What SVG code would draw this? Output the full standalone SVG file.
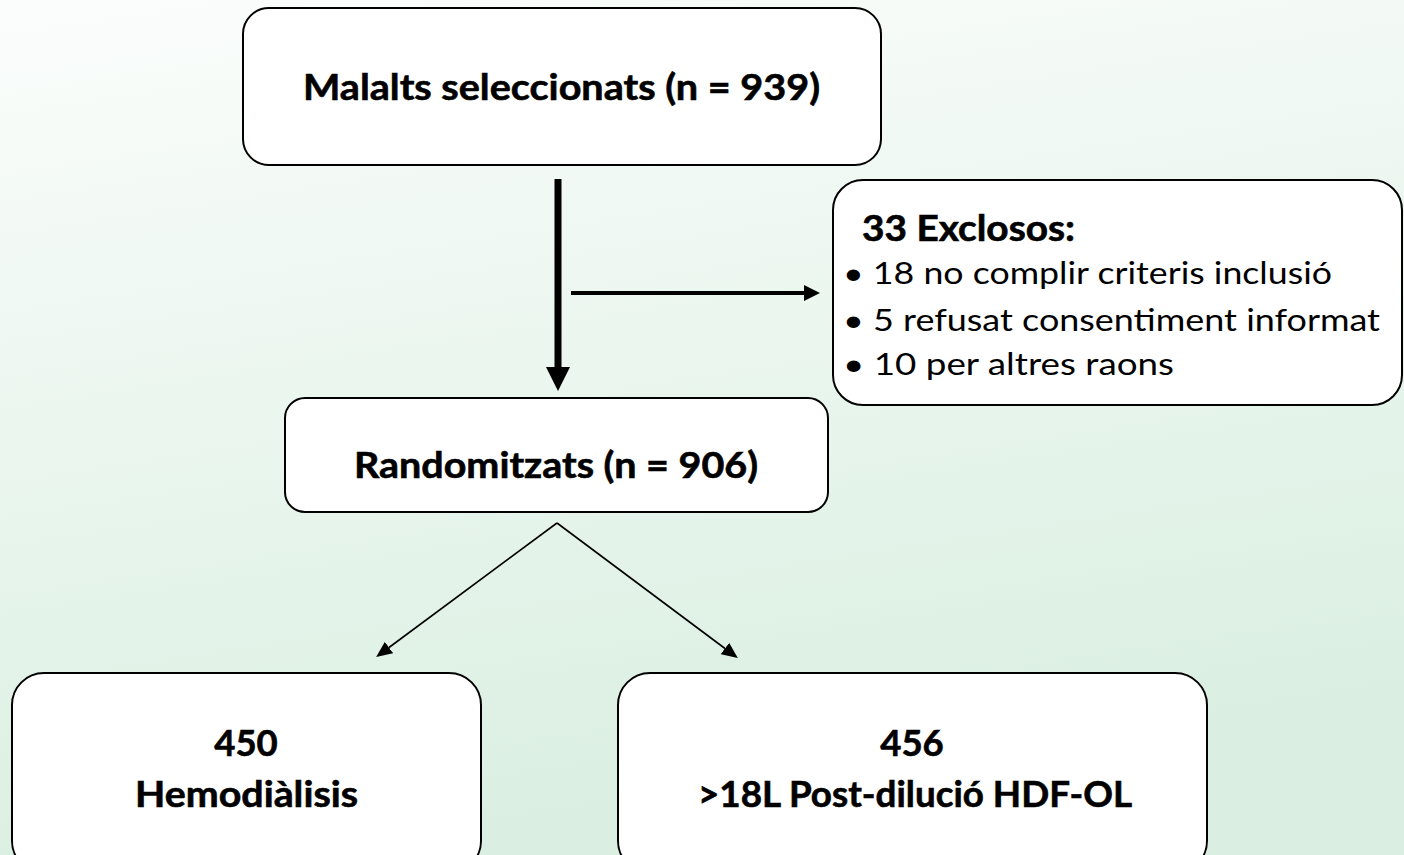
<svg xmlns="http://www.w3.org/2000/svg" width="1404" height="855" viewBox="0 0 1404 855">
<defs>
<linearGradient id="bg" x1="0" y1="0" x2="0.25" y2="1">
<stop offset="0" stop-color="#fbfdfc"/>
<stop offset="1" stop-color="#daefe1"/>
</linearGradient>
<marker id="headBig" markerUnits="userSpaceOnUse" markerWidth="24" markerHeight="24" refX="0" refY="12" orient="auto" viewBox="0 0 24 24">
<path d="M0,0 L24,12 L0,24 Z" fill="#000"/>
</marker>
<marker id="headMid" markerUnits="userSpaceOnUse" markerWidth="16" markerHeight="16" refX="0" refY="8" orient="auto" viewBox="0 0 16 16">
<path d="M0,0 L16,8 L0,16 Z" fill="#000"/>
</marker>
<marker id="headSmall" markerUnits="userSpaceOnUse" markerWidth="16" markerHeight="14" refX="0" refY="7" orient="auto" viewBox="0 0 16 14">
<path d="M0,0 L16,7 L0,14 Z" fill="#000"/>
</marker>
</defs>
<style>
.box { fill: #ffffff; stroke: #000; stroke-width: 2; }
.b { font-family: Lato, "Liberation Sans", sans-serif; font-weight: bold; font-size: 36.5px; fill: #000; stroke: #000; stroke-width: 0.6; }
.r { font-family: Lato, "Liberation Sans", sans-serif; font-weight: normal; font-size: 31px; fill: #000; }
.conn { stroke: #000; fill: none; }
</style>
<rect x="0" y="0" width="1404" height="855" fill="url(#bg)"/>

<g id="connectors">
<line class="conn" x1="558" y1="179" x2="558" y2="367" stroke-width="7" marker-end="url(#headBig)"/>
<line class="conn" x1="571" y1="293" x2="804" y2="293" stroke-width="4" marker-end="url(#headMid)"/>
<line class="conn" x1="557" y1="523" x2="389" y2="647.5" stroke-width="1.6" marker-end="url(#headSmall)"/>
<line class="conn" x1="557" y1="523" x2="725" y2="648.5" stroke-width="1.6" marker-end="url(#headSmall)"/>
</g>

<g id="node-selected">
<rect class="box" x="243" y="8" width="638" height="157" rx="26" ry="26"/>
<text class="b" x="303" y="100" textLength="517" lengthAdjust="spacingAndGlyphs">Malalts seleccionats (n = 939)</text>
</g>

<g id="node-excluded">
<rect class="box" x="833" y="180" width="569" height="225" rx="30" ry="30"/>
<text class="b" x="862" y="241" textLength="213" lengthAdjust="spacingAndGlyphs">33 Exclosos:</text>
<text class="r" x="843" y="284" textLength="489" lengthAdjust="spacingAndGlyphs">• 18 no complir criteris inclusió</text>
<text class="r" x="843" y="331" textLength="537" lengthAdjust="spacingAndGlyphs">• 5 refusat consentiment informat</text>
<text class="r" x="843" y="375" textLength="331" lengthAdjust="spacingAndGlyphs">• 10 per altres raons</text>
</g>

<g id="node-randomized">
<rect class="box" x="285" y="398" width="543" height="114" rx="20" ry="20"/>
<text class="b" x="354" y="478" textLength="404" lengthAdjust="spacingAndGlyphs">Randomitzats (n = 906)</text>
</g>

<g id="node-hd">
<rect class="box" x="12" y="673" width="469" height="200" rx="32" ry="32"/>
<text class="b" x="246" y="756" text-anchor="middle">450</text>
<text class="b" x="135" y="807" textLength="223" lengthAdjust="spacingAndGlyphs">Hemodiàlisis</text>
</g>

<g id="node-hdf">
<rect class="box" x="618" y="673" width="589" height="200" rx="32" ry="32"/>
<text class="b" x="912" y="756" text-anchor="middle">456</text>
<text class="b" x="698" y="807" textLength="434" lengthAdjust="spacingAndGlyphs">&gt;18L Post-dilució HDF-OL</text>
</g>
</svg>
